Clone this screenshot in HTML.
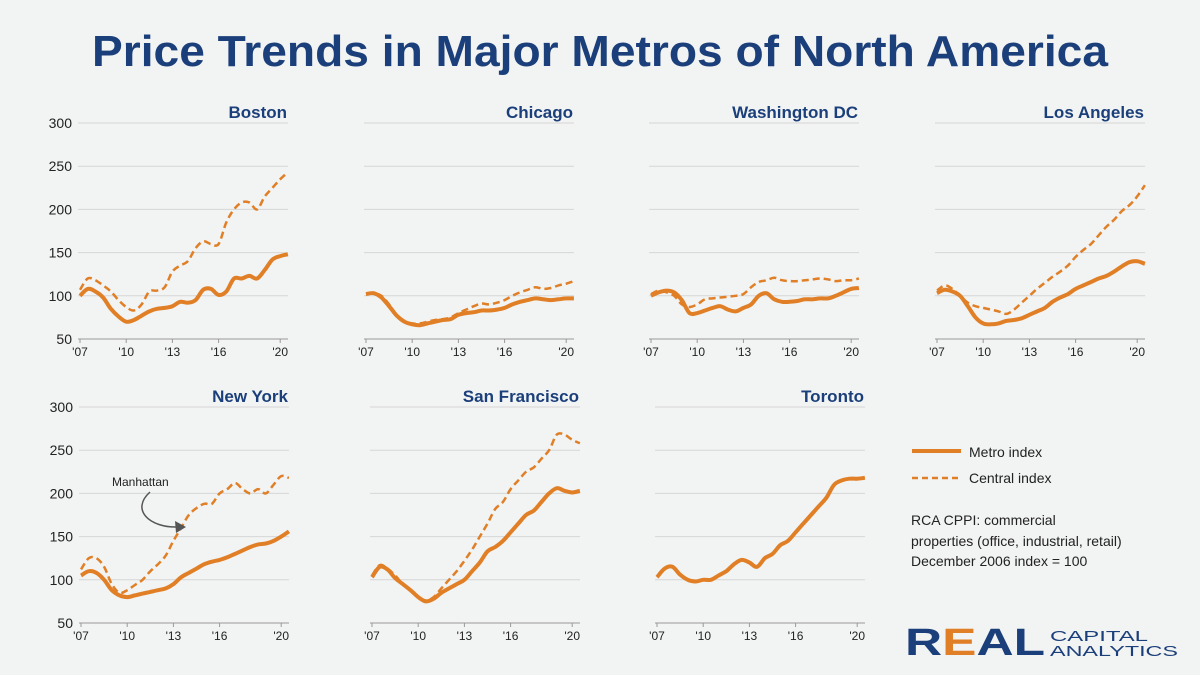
<!DOCTYPE html>
<html><head><meta charset="utf-8"><style>
body{margin:0;background:#f2f3f3;}
svg{display:block;font-family:"Liberation Sans",sans-serif;}
</style></head><body>
<svg id="c" width="1200" height="675" viewBox="0 0 1200 675">
<rect width="1200" height="675" fill="#f2f3f3"/>
<text x="600" y="66" text-anchor="middle" font-size="44" font-weight="bold" fill="#1b3f7a" textLength="1016" lengthAdjust="spacingAndGlyphs">Price Trends in Major Metros of North America</text>
<g id="panels"></g>
<g>
<text x="112" y="486" font-size="12" fill="#222">Manhattan</text>
<path d="M150,492 C130,510 150,528 178,527" fill="none" stroke="#555" stroke-width="1.5"/>
<polygon points="186,527 175,521 176,533" fill="#555"/>
</g>
<g>
<line x1="912" y1="451" x2="961" y2="451" stroke="#e07f26" stroke-width="4"/>
<text x="969" y="457" font-size="14" fill="#222">Metro index</text>
<line x1="912" y1="478" x2="961" y2="478" stroke="#e07f26" stroke-width="2.5" stroke-dasharray="6,4"/>
<text x="969" y="483" font-size="14" fill="#222">Central index</text>
<text x="911" y="525" font-size="14" fill="#222">RCA CPPI: commercial</text>
<text x="911" y="546" font-size="14" fill="#222">properties (office, industrial, retail)</text>
<text x="911" y="566" font-size="14" fill="#222">December 2006 index = 100</text>
</g>
<g>
<text x="905" y="655" font-size="38" font-weight="bold" fill="#1b3f7a" textLength="140" lengthAdjust="spacingAndGlyphs">R<tspan fill="#e07f26">E</tspan>AL</text>
<text x="1050" y="641" font-size="15" fill="#1b3f7a" textLength="98" lengthAdjust="spacingAndGlyphs">CAPITAL</text>
<text x="1050" y="656" font-size="15" fill="#1b3f7a" textLength="128" lengthAdjust="spacingAndGlyphs">ANALYTICS</text>
</g>
</svg>
<script>
const yearTicks = ["'07","'10","'13","'16","'20"];
const yearTickValues = [2007,2010,2013,2016,2020];
const yTicks = [50,100,150,200,250,300];
const cities = ["Boston","Chicago","Washington DC","Los Angeles","New York","San Francisco","Toronto"];
const bostonMetro = [100,108,105,98,85,76,70,72,77,82,85,86,88,93,92,95,107,108,101,105,120,120,123,120,130,142,146,148];
const bostonCentral = [107,120,118,112,105,95,87,83,90,105,106,110,128,135,140,155,163,160,160,185,200,208,208,200,215,225,235,243];
const chicagoMetro = [102,103,98,88,77,70,67,66,68,70,72,73,78,80,81,83,83,84,86,90,93,95,97,96,95,96,97,97];
const chicagoCentral = [102,103,100,90,78,71,68,68,70,72,73,75,80,84,88,91,90,92,95,100,104,107,110,108,109,112,114,117];
const dcMetro = [100,104,106,104,95,80,80,83,86,88,84,82,86,90,100,103,96,93,93,94,96,96,97,97,100,104,108,109];
const dcCentral = [102,106,104,100,90,87,90,96,97,98,99,100,102,110,116,118,121,118,117,117,118,119,120,119,117,118,118,120];
const laMetro = [103,107,105,100,88,75,68,67,68,71,72,74,78,82,86,93,98,102,108,112,116,120,123,128,134,139,140,137];
const laCentral = [106,112,108,100,92,88,86,84,82,79,84,92,100,108,115,122,128,135,145,153,160,170,180,188,198,205,215,228];
const nyMetro = [105,110,108,100,88,82,80,82,84,86,88,90,95,103,108,113,118,121,123,126,130,134,138,141,142,145,150,156];
const nyCentral = [112,125,125,115,95,85,88,94,100,110,118,128,145,160,175,183,188,188,200,205,212,205,200,205,200,210,220,218];
const sfMetro = [103,115,112,102,95,88,80,75,78,85,90,95,100,110,120,133,138,145,155,165,175,180,190,200,206,203,201,203];
const sfCentral = [105,117,113,105,95,87,80,76,80,90,100,110,122,135,150,165,182,190,205,215,225,230,240,250,268,268,262,258];
const torontoMetro = [103,113,115,106,100,98,100,100,105,110,118,123,120,115,125,130,140,145,155,165,175,185,195,210,215,217,217,218];
const metroSeries = [bostonMetro,chicagoMetro,dcMetro,laMetro,nyMetro,sfMetro,torontoMetro];
const centralSeries = [bostonCentral,chicagoCentral,dcCentral,laCentral,nyCentral,sfCentral,null];

const NS="http://www.w3.org/2000/svg";
const root=document.getElementById('panels');
const layout=[[80,123],[366,123],[651,123],[937,123],[81,407],[372,407],[657,407]];
const YW=15.4, PH=216;
function mk(tag,attrs,parent){const e=document.createElementNS(NS,tag);for(const k in attrs)e.setAttribute(k,attrs[k]);parent.appendChild(e);return e;}
function pathFor(vals,xs,ys){
  const p=vals.map((v,i)=>[xs(2007+i*0.5),ys(v)]);
  let d="M"+p[0][0].toFixed(1)+","+p[0][1].toFixed(1);
  for(let i=0;i<p.length-1;i++){
    const p0=p[Math.max(i-1,0)],p1=p[i],p2=p[i+1],p3=p[Math.min(i+2,p.length-1)];
    const c1=[p1[0]+(p2[0]-p0[0])/6,p1[1]+(p2[1]-p0[1])/6];
    const c2=[p2[0]-(p3[0]-p1[0])/6,p2[1]-(p3[1]-p1[1])/6];
    d+=" C"+c1.map(n=>n.toFixed(1)).join(",")+" "+c2.map(n=>n.toFixed(1)).join(",")+" "+p2.map(n=>n.toFixed(1)).join(",");
  }
  return d;
}
cities.forEach((city,ci)=>{
  const [x0,yt]=layout[ci];
  const xs=y=>x0+(y-2007)*YW;
  const ys=v=>yt+PH-(v-50)/250*PH;
  const g=mk('g',{},root);
  
  
  yTicks.forEach(t=>{
    const l=mk('line',{x1:x0-2,x2:x0+208,y1:ys(t),y2:ys(t),stroke:t===50?'#999':'#d6d6d6','stroke-width':1},g);
    
    
    if(ci===0||ci===4){
      const tx=mk('text',{x:x0-8,y:ys(t)+5,'text-anchor':'end','font-size':14,fill:'#222'},g);
      tx.textContent=t;
      
      
    }
  });
  yearTickValues.forEach((yv,k)=>{
    mk('line',{x1:xs(yv),x2:xs(yv),y1:ys(50),y2:ys(50)+4,stroke:'#999'},g);
    const tx=mk('text',{x:xs(yv),y:ys(50)+17,'text-anchor':'middle','font-size':12,fill:'#222'},g);
    tx.textContent=yearTicks[k];
    
    
  });
  const tt=mk('text',{x:x0+207,y:yt-5,'text-anchor':'end','font-size':17,'font-weight':'bold',fill:'#1b3f7a'},g);
  tt.textContent=city;
  
  
  if(centralSeries[ci]){
    const p=mk('path',{d:pathFor(centralSeries[ci],xs,ys),fill:'none',stroke:'#e07f26','stroke-width':2.5,'stroke-dasharray':'7,4'},g);
    
    
  }
  const m=mk('path',{d:pathFor(metroSeries[ci],xs,ys),fill:'none',stroke:'#e07f26','stroke-width':4,'stroke-linejoin':'round'},g);
  
  
});
</script>
</body></html>
